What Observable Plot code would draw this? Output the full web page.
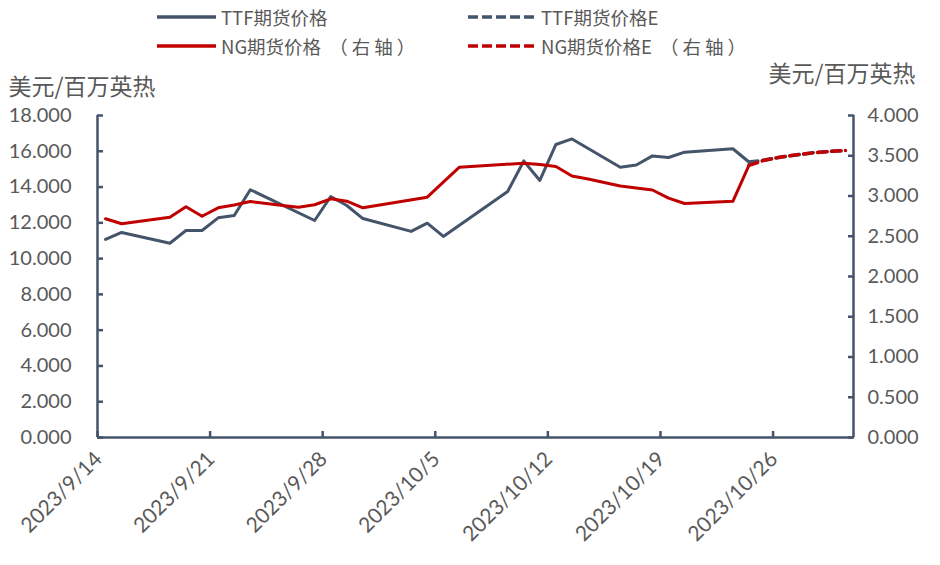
<!DOCTYPE html>
<html><head><meta charset="utf-8">
<script src="https://cdn.jsdelivr.net/npm/d3@7"></script>
<script src="https://cdn.jsdelivr.net/npm/@observablehq/plot@0.6"></script>
<style>
body{margin:0;background:#fff;}
#wrap{position:relative;width:940px;height:565px;overflow:hidden;background:#fff;}
#wrap > svg{position:absolute;left:0;top:0;}
.leg{position:absolute;display:flex;align-items:center;font-family:"Noto Sans CJK SC",sans-serif;font-size:18.5px;color:#595959;white-space:nowrap;}
.leg svg{display:block;margin-right:5px;}
.leg .paren{margin-left:8px;letter-spacing:4px;}
</style></head><body><div id="wrap"></div>
<script>
// ---- data ----
const ttfDates = ["2023-09-14","2023-09-15","2023-09-18","2023-09-19","2023-09-20","2023-09-21","2023-09-22","2023-09-23","2023-09-27","2023-09-28","2023-09-29","2023-09-30","2023-10-03","2023-10-04","2023-10-05","2023-10-09","2023-10-10","2023-10-11","2023-10-12","2023-10-13","2023-10-16","2023-10-17","2023-10-18","2023-10-19","2023-10-20","2023-10-23","2023-10-24"];
const ttfValues = [11.07,11.46,10.86,11.57,11.57,12.28,12.41,13.85,12.13,13.47,12.97,12.24,11.52,11.98,11.24,13.75,15.46,14.37,16.38,16.69,15.11,15.23,15.74,15.65,15.95,16.14,15.40];
const ngDates = ["2023-09-14","2023-09-15","2023-09-18","2023-09-19","2023-09-20","2023-09-21","2023-09-22","2023-09-23","2023-09-25","2023-09-26","2023-09-27","2023-09-28","2023-09-29","2023-09-30","2023-10-04","2023-10-06","2023-10-10","2023-10-11","2023-10-12","2023-10-13","2023-10-14","2023-10-16","2023-10-18","2023-10-19","2023-10-20","2023-10-23","2023-10-24"];
const ngValues = [2.717,2.655,2.737,2.866,2.748,2.853,2.889,2.932,2.882,2.861,2.891,2.965,2.935,2.853,2.985,3.358,3.407,3.391,3.366,3.248,3.211,3.124,3.075,2.973,2.907,2.934,3.38];
const forecastDates = ["2023-10-24","2023-10-25","2023-10-26","2023-10-27","2023-10-28","2023-10-29","2023-10-30"];
const ttfForecast = [15.40,15.51,15.68,15.80,15.92,15.99,16.04];
const ngForecast = [3.38,3.447,3.484,3.512,3.537,3.553,3.565];
const xTickLabels = ["2023/9/14","2023/9/21","2023/9/28","2023/10/5","2023/10/12","2023/10/19","2023/10/26"];
const leftTicks = [0,2,4,6,8,10,12,14,16,18];
const rightTicks = [0,0.5,1,1.5,2,2.5,3,3.5,4];
const xDomainLabels = ["2023/9/14","2023/10/31"];
const unitLabel = "美元/百万英热";
const seriesNames = ["TTF期货价格","TTF期货价格E","NG期货价格","NG期货价格E"];
const rightAxisNote = "（右轴）";

// ---- build ----
const BLUE = "#44546A", RED = "#C00000", AXIS = "#44546A", TXT = "#595959";
const K = 18 / 4; // right axis -> left axis
const noon = s => new Date(s + "T12:00:00");
const fromLabel = s => { const [y,m,d] = s.split("/").map(Number); return new Date(y, m-1, d); };
const ttf = ttfDates.map((d,i) => ({date: noon(d), v: ttfValues[i]}));
const ng = ngDates.map((d,i) => ({date: noon(d), v: ngValues[i] * K}));
const ttfE = forecastDates.map((d,i) => ({date: noon(d), v: ttfForecast[i]}));
const ngE = forecastDates.map((d,i) => ({date: noon(d), v: ngForecast[i] * K}));
const xTicks = xTickLabels.map(fromLabel);
const xDomain = xDomainLabels.map(fromLabel);
const fmt = d3.format(".3f");
const labelOf = new Map(xTicks.map((d,i) => [+d, xTickLabels[i]]));

const chart = Plot.plot({
  width: 940, height: 565,
  marginLeft: 97, marginRight: 87, marginTop: 115, marginBottom: 128,
  style: {fontFamily: "Lato, sans-serif", fontSize: "20px", color: TXT, background: "transparent", overflow: "visible"},
  x: {type: "time", domain: xDomain},
  y: {domain: [0, 18]},
  marks: [
    Plot.axisY({ticks: leftTicks, tickSize: 0, tickPadding: 26, tickFormat: fmt, label: null, fill: TXT}),
    Plot.axisY({ticks: leftTicks, tickSize: -6, tickPadding: 0, tickFormat: () => "", label: null, stroke: AXIS, strokeWidth: 2.5}),
    Plot.axisY({anchor: "right", ticks: rightTicks.map(v => v * K), tickSize: 0, tickPadding: 14, tickFormat: v => fmt(v / K), label: null, fill: TXT}),
    Plot.axisY({anchor: "right", ticks: rightTicks.map(v => v * K), tickSize: -6, tickPadding: 0, tickFormat: () => "", label: null, stroke: AXIS, strokeWidth: 2.5}),
    Plot.axisX({ticks: xTicks, tickSize: 0, tickPadding: 18, tickRotate: -45, tickFormat: d => labelOf.get(+d), label: null, fill: TXT, fontSize: 21, dx: 1}),
    Plot.axisX({ticks: xTicks, tickSize: -6, tickPadding: 0, tickFormat: () => "", label: null, stroke: AXIS, strokeWidth: 2.5}),
    Plot.ruleX([xDomain[0]], {stroke: AXIS, strokeWidth: 2.5}),
    Plot.ruleX([xDomain[1]], {stroke: AXIS, strokeWidth: 2.5}),
    Plot.ruleY([0], {stroke: AXIS, strokeWidth: 2.5}),
    Plot.line(ttf, {x: "date", y: "v", stroke: BLUE, strokeWidth: 3, strokeLinejoin: "round"}),
    Plot.line(ng, {x: "date", y: "v", stroke: RED, strokeWidth: 3, strokeLinejoin: "round"}),
    Plot.line(ttfE, {x: "date", y: "v", stroke: BLUE, strokeWidth: 3.5, strokeDasharray: "9,5"}),
    Plot.line(ngE, {x: "date", y: "v", stroke: RED, strokeWidth: 3.5, strokeDasharray: "9,5"}),
    Plot.text([unitLabel], {text: d => d, frameAnchor: "top-left", dx: -89, dy: -37, textAnchor: "start", fontSize: 23, fontFamily: "Noto Sans CJK SC", fill: TXT}),
    Plot.text([unitLabel], {text: d => d, frameAnchor: "top-right", dx: -85, dy: -50, textAnchor: "start", fontSize: 23, fontFamily: "Noto Sans CJK SC", fill: TXT})
  ]
});
const wrap = document.getElementById("wrap");
wrap.appendChild(chart);

const legendItems = [
  {name: seriesNames[0], note: "", color: BLUE, dash: null, left: 157, top: 17},
  {name: seriesNames[1], note: "", color: BLUE, dash: "10,4", left: 468, top: 17},
  {name: seriesNames[2], note: rightAxisNote, color: RED, dash: null, left: 157, top: 46},
  {name: seriesNames[3], note: rightAxisNote, color: RED, dash: "10,4", left: 468, top: 46}
];
for (const it of legendItems) {
  const w = it.dash ? 68 : 59;
  const div = document.createElement("div");
  div.className = "leg";
  div.style.left = it.left + "px";
  div.style.top = (it.top - 14) + "px";
  div.style.height = "28px";
  div.innerHTML = `<svg width="${w}" height="8"><line x1="0" y1="4" x2="${w}" y2="4" stroke="${it.color}" stroke-width="3.5" ${it.dash ? `stroke-dasharray="${it.dash}"` : ""}/></svg><span>${it.name}${it.note ? `<span class="paren">${it.note}</span>` : ""}</span>`;
  wrap.appendChild(div);
}
</script></body></html>
